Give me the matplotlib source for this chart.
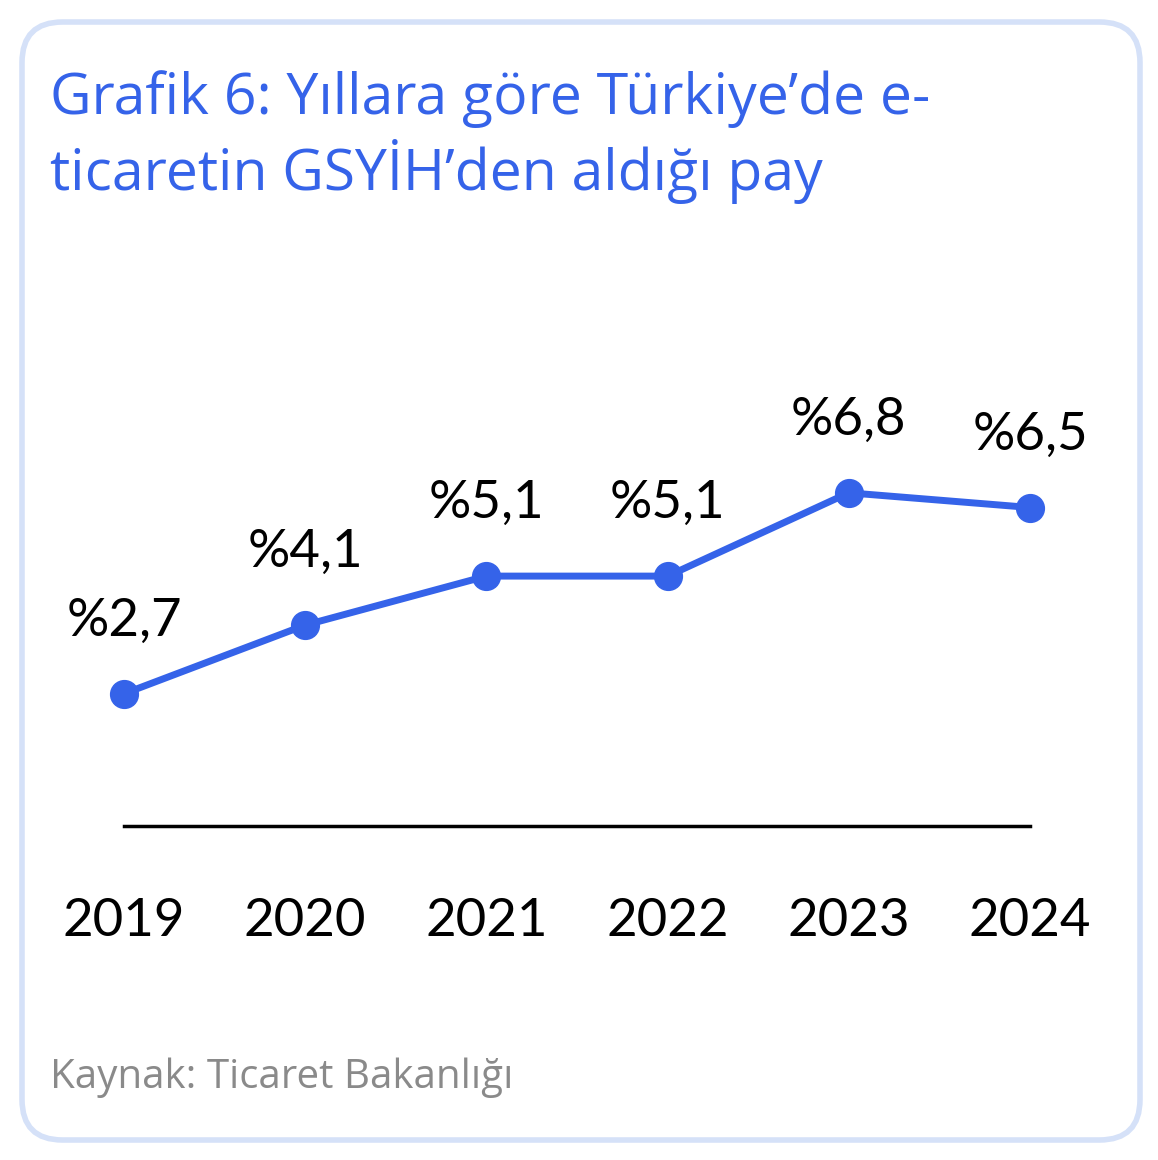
import matplotlib.pyplot as plt
from matplotlib.patches import FancyBboxPatch

years = [2019, 2020, 2021, 2022, 2023, 2024]
shares = [2.7, 4.1, 5.1, 5.1, 6.8, 6.5]
labels = ["%2,7", "%4,1", "%5,1", "%5,1", "%6,8", "%6,5"]

BLUE = "#3563e9"
W, H = 1158, 1160

plt.rcParams["font.family"] = "Lato"
fig = plt.figure(figsize=(W / 100, H / 100), dpi=100)

# rounded frame
frame = FancyBboxPatch((22 / W, 20 / H), 1118 / W, 1118 / H,
                       boxstyle="round,pad=0,rounding_size=0.035",
                       transform=fig.transFigure, fill=False,
                       ec="#d5e1f8", lw=4)
fig.patches.append(frame)

fig.text(50 / W, 1 - 137 / H, "Grafik 6: Yıllara göre Türkiye’de e-\nticaretin GSYİH’den aldığı pay",
         color=BLUE, fontsize=41, va="center", ha="left", linespacing=1.2,
         family="Open Sans")
fig.text(50 / W, 1 - 1078 / H, "Kaynak: Ticaret Bakanlığı",
         color="#8a8a8a", fontsize=29, va="center", ha="left", family="Open Sans")

# axes: x 124..1030 px, y=0 at 826 px, 49 px per unit
ax = fig.add_axes([124 / W, (H - 826) / H, (1030 - 124) / W, 500 / H])
ax.set_xlim(years[0], years[-1])
ax.set_ylim(0, 500 / 49)
ax.plot(years, shares, color=BLUE, lw=5, marker="o", ms=20, clip_on=False)
for x, y, t in zip(years, shares, labels):
    ax.annotate(t, (x, y), xytext=(0, 52), textcoords="offset points",
                ha="center", va="center", fontsize=38)
ax.axhline(0, color="black", lw=2.5, clip_on=False)
for s in ax.spines.values():
    s.set_visible(False)
ax.set_yticks([])
ax.set_xticks(years)
ax.set_xticklabels([str(y) for y in years], fontsize=38)
ax.tick_params(axis="x", length=0, pad=52)
ax.patch.set_alpha(0)

fig.savefig("out.png", dpi=100)
